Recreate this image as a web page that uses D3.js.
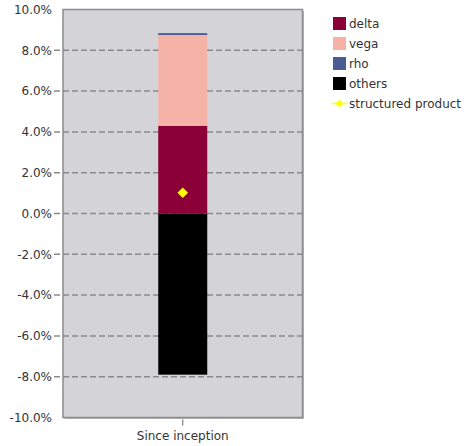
<!DOCTYPE html>
<html lang="en">
<head>
<meta charset="UTF-8">
<title>Return attribution</title>
<script src="https://d3js.org/d3.v7.min.js"></script>
<style>
  body { margin: 0; background: #fff; }
  text { font-family: "DejaVu Sans", sans-serif; font-size: 12px; fill: #333; }
</style>
</head>
<body>
<svg width="476" height="446"></svg>
<script>
// data, in percent
const categories = ["Since inception"];
const seriesNames = ["others", "delta", "vega", "rho"];
const delta = [4.3];
const vega = [4.45];
const rho = [0.09];
const others = [-7.9];
const structured = [1.02];
const yTicks = [-10, -8, -6, -4, -2, 0, 2, 4, 6, 8, 10];

const colors = { delta: "#8b0037", vega: "#f4b3a6", rho: "#4a5a93", others: "#000000" };
const legendItems = ["delta", "vega", "rho", "others"];

const svg = d3.select("svg");
const margin = { left: 63, top: 9.5, right: 302.5, bottom: 417.5 };

const x = d3.scaleBand().domain(categories).range([margin.left, margin.right]).paddingInner(0).paddingOuter(0);
const y = d3.scaleLinear().domain([-10, 10]).range([margin.bottom, margin.top]);

// plot background with a faint shadow
svg.append("rect")
  .attr("x", margin.left + 1.5).attr("y", margin.top + 1.5)
  .attr("width", margin.right - margin.left).attr("height", margin.bottom - margin.top)
  .attr("fill", "#b8b8b8");
svg.append("rect")
  .attr("x", margin.left).attr("y", margin.top)
  .attr("width", margin.right - margin.left).attr("height", margin.bottom - margin.top)
  .attr("fill", "#d4d4d8").attr("stroke", "#8c8c8c").attr("stroke-width", 1.5);

// gridlines (dashed), extending out as ticks
svg.append("g").selectAll("line")
  .data(yTicks.filter(d => d !== -10 && d !== 10))
  .join("line")
  .attr("x1", margin.left - 9).attr("x2", margin.right)
  .attr("y1", d => y(d)).attr("y2", d => y(d))
  .attr("stroke", "#8a8a8a").attr("stroke-width", 1.5)
  .attr("stroke-dasharray", "6,3");

// y labels (plain hyphen for negatives, like the original)
svg.append("g").selectAll("text")
  .data(yTicks)
  .join("text")
  .attr("x", 52).attr("y", d => y(d))
  .attr("dy", "0.35em")
  .attr("text-anchor", "end")
  .text(d => d.toFixed(1) + "%");

// stacked bars: positives stack up from 0, negatives down
const barW = 49;
const cx = x(categories[0]) + x.bandwidth() / 2;
const stackRows = categories.map((c, i) => ({ cat: c, delta: delta[i], vega: vega[i], rho: rho[i], others: others[i] }));
const stack = d3.stack().keys(seriesNames).offset(d3.stackOffsetDiverging)(stackRows);

svg.append("g").selectAll("g")
  .data(stack)
  .join("g")
  .attr("fill", d => colors[d.key])
  .selectAll("rect")
  .data(d => d)
  .join("rect")
  .attr("x", d => x(d.data.cat) + x.bandwidth() / 2 - barW / 2)
  .attr("width", barW)
  .attr("y", d => y(d[1]))
  .attr("height", d => y(d[0]) - y(d[1]));

// structured product marker
svg.append("g").selectAll("path")
  .data(structured)
  .join("path")
  .attr("transform", (d, i) => `translate(${x(categories[i]) + x.bandwidth() / 2},${y(d)})`)
  .attr("d", d3.symbol(d3.symbolDiamond2, 72)())
  .attr("fill", "#ffff00");

// x axis tick and label
svg.append("line")
  .attr("x1", cx).attr("x2", cx).attr("y1", margin.bottom + 2).attr("y2", margin.bottom + 8)
  .attr("stroke", "#666");
svg.append("text")
  .attr("x", cx).attr("y", 440)
  .attr("text-anchor", "middle")
  .text(categories[0]);

// legend
const lg = svg.append("g").attr("transform", "translate(333,17)");
legendItems.forEach((k, i) => {
  lg.append("rect").attr("x", 0).attr("y", i * 20).attr("width", 13).attr("height", 13).attr("fill", colors[k]);
  lg.append("text").attr("x", 16).attr("y", i * 20 + 7).attr("dy", "0.35em").text(k);
});
lg.append("line").attr("x1", -1).attr("x2", 14).attr("y1", 86.5).attr("y2", 86.5)
  .attr("stroke", "#ffff00").attr("stroke-width", 1.5);
lg.append("path").attr("transform", "translate(6.5,86.5)")
  .attr("d", d3.symbol(d3.symbolDiamond2, 40)()).attr("fill", "#ffff00");
lg.append("text").attr("x", 16).attr("y", 86.5).attr("dy", "0.35em").text("structured product");
</script>
</body>
</html>
